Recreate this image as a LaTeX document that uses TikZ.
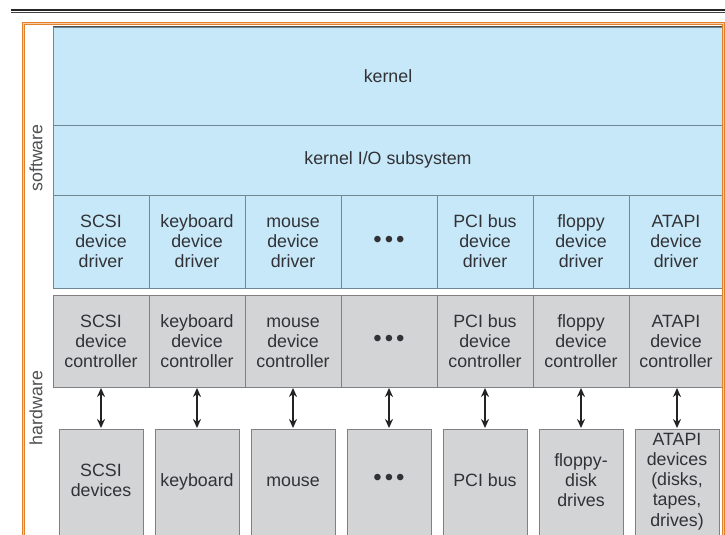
\documentclass[tikz,border=0pt]{standalone}
\usepackage{fontspec}
\setmainfont{Liberation Sans}
\usetikzlibrary{arrows.meta}
\definecolor{bluefill}{RGB}{198,232,248}
\definecolor{bluedraw}{RGB}{112,136,148}
\definecolor{grayfill}{RGB}{211,212,214}
\definecolor{graydraw}{RGB}{128,128,130}
\definecolor{txt}{RGB}{50,50,54}
\definecolor{sidetxt}{RGB}{80,80,84}
\definecolor{orng}{RGB}{226,128,44}
\definecolor{orngl}{RGB}{246,206,170}
\definecolor{arrc}{RGB}{35,35,38}
\newcommand{\mydots}{{\fontsize{24}{20}\selectfont •\hspace{3pt}•\hspace{3pt}•}}
\newcommand{\mystrut}{\rule[-3.6pt]{0pt}{20pt}}
\newcommand{\bt}[1]{\mystrut#1\mystrut}
\begin{document}
\begin{tikzpicture}[x=1pt,y=-1pt,
  every node/.style={font=\fontsize{17.8}{20}\selectfont, text=txt, align=center, inner sep=0pt},
  kbox/.style={draw=bluedraw, fill=bluefill, line width=0.9pt, minimum width=670, minimum height=#1},
  drv/.style={draw=bluedraw, fill=bluefill, line width=0.9pt, minimum width=#1, minimum height=93},
  ctl/.style={draw=graydraw, fill=grayfill, line width=0.9pt, minimum width=#1, minimum height=92},
  dev/.style={draw=graydraw, fill=grayfill, line width=0.9pt, minimum width=84, minimum height=120},
  devtext/.style={yshift=9pt},
  sidelabel/.style={text=sidetxt, rotate=90},
  arr/.style={{Stealth[length=9pt,width=8pt]}-{Stealth[length=9pt,width=8pt]}, line width=2pt, draw=arrc, shorten <=0.5pt, shorten >=0.5pt}]
\useasboundingbox (0,0) rectangle (725,535);
\clip (0,0) rectangle (725,535);
\fill[white] (0,0) rectangle (725,535);

% top rule
\draw[line width=2.2pt, black!85] (11,10) -- (725,10);
\draw[line width=0.9pt, black!75] (11,12.8) -- (725,12.8);

% software layers
\node[kbox=98] (kernel) at (388,76) {kernel};
\draw[line width=1.2pt, black!70] (kernel.north west) -- (kernel.north east);
\node[kbox=70] (kio) at (388,160) {kernel I/O subsystem};

% drivers
\node[drv=96] (dr1) at (101,241.5) {\bt{SCSI\\device\\driver}};
\node[drv=96] (dr2) at (197,241.5) {\bt{keyboard\\device\\driver}};
\node[drv=96] (dr3) at (293,241.5) {\bt{mouse\\device\\driver}};
\node[drv=96] (dr4) at (389,241.5) {\mydots};
\node[drv=96] (dr5) at (485,241.5) {\bt{PCI bus\\device\\driver}};
\node[drv=96] (dr6) at (581,241.5) {\bt{floppy\\device\\driver}};
\node[drv=94] (dr7) at (676,241.5) {\bt{ATAPI\\device\\driver}};

% controllers
\node[ctl=96] (ct1) at (101,341) {\bt{SCSI\\device\\controller}};
\node[ctl=96] (ct2) at (197,341) {\bt{keyboard\\device\\controller}};
\node[ctl=96] (ct3) at (293,341) {\bt{mouse\\device\\controller}};
\node[ctl=96] (ct4) at (389,341) {\mydots};
\node[ctl=96] (ct5) at (485,341) {\bt{PCI bus\\device\\controller}};
\node[ctl=96] (ct6) at (581,341) {\bt{floppy\\device\\controller}};
\node[ctl=94] (ct7) at (676,341) {\bt{ATAPI\\device\\controller}};

% devices
\node[dev, label={[devtext]center:\bt{SCSI\\devices}}] (dv1) at (101,489) {};
\node[dev, label={[devtext]center:\bt{keyboard}}] (dv2) at (197,489) {};
\node[dev, label={[devtext]center:\bt{mouse}}] (dv3) at (293,489) {};
\node[dev, label={[devtext]center:\mydots}] (dv4) at (389,489) {};
\node[dev, label={[devtext]center:\bt{PCI bus}}] (dv5) at (485,489) {};
\node[dev, label={[devtext]center:\bt{floppy-\\disk\\drives}}] (dv6) at (581,489) {};
\node[dev, label={[devtext]center:{\bt{ATAPI\\devices\\(disks,\\tapes,\\drives)}}}] (dv7) at (677,489) {};

% arrows
\draw[arr] (ct1) -- (dv1);
\draw[arr] (ct2) -- (dv2);
\draw[arr] (ct3) -- (dv3);
\draw[arr] (389,387.5) -- (dv4);
\draw[arr] (ct5) -- (dv5);
\draw[arr] (ct6) -- (dv6);
\draw[arr] (677,387.5) -- (dv7);

% side labels
\node[sidelabel] (sw) at (36,158) {software};
\node[sidelabel] (hw) at (36,408) {hardware};

% orange frame
\draw[orng, line width=3.4pt] (23.7,23.7) rectangle (723.4,620);
\draw[orngl, line width=0.7pt] (23.7,23.7) rectangle (723.4,620);
\end{tikzpicture}
\end{document}
